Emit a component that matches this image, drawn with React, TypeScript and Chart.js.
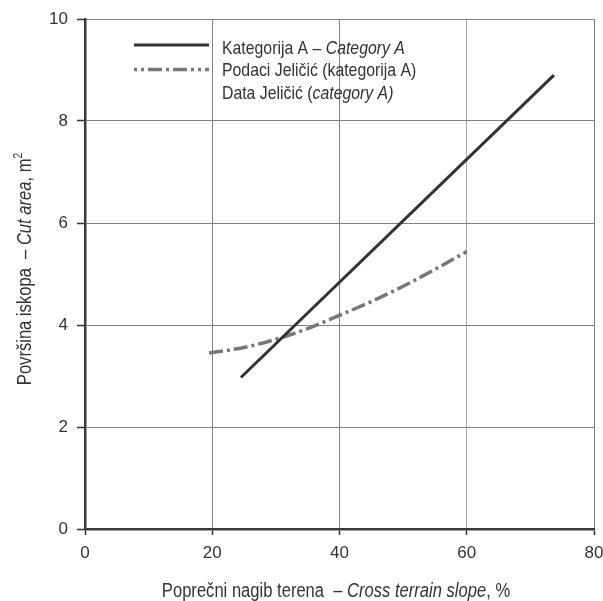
import React, { useEffect, useRef } from "react";
import { Chart, registerables } from "chart.js";

Chart.register(...registerables);

// ---- data ----
const categoryAX = [24.5, 73.7];
const categoryAY = [2.97, 8.9];
const jelicicX = [19.5, 25, 30, 35, 40, 45, 50, 55, 60];
const jelicicY = [3.45, 3.56, 3.72, 3.93, 4.19, 4.46, 4.76, 5.09, 5.44];
const xTickValues = [0, 20, 40, 60, 80];
const yTickValues = [0, 2, 4, 6, 8, 10];

type Part = { t: string; i?: boolean; sup?: boolean };
const legendRow1: Part[] = [{ t: "Kategorija A – " }, { t: "Category A", i: true }];
const legendRow2: Part[] = [{ t: "Podaci Jeličić (kategorija A)" }];
const legendRow3: Part[] = [{ t: "Data Jeličić (" }, { t: "category A)", i: true }];
const xTitle: Part[] = [{ t: "Poprečni nagib terena  – " }, { t: "Cross terrain slope", i: true }, { t: ", %" }];
const yTitle: Part[] = [{ t: "Površina iskopa  – " }, { t: "Cut area", i: true }, { t: ", m" }, { t: "2", sup: true }];

const FAMILY = "'Liberation Sans', Arial, sans-serif";
const TEXT = "#333333";

function fontOf(p: Part, size: number) {
  const s = p.sup ? Math.round(size * 0.6) : size;
  return `${p.i ? "italic " : ""}${s}px ${FAMILY}`;
}

function drawRich(
  ctx: CanvasRenderingContext2D,
  parts: Part[],
  x: number,
  y: number,
  size: number,
  align: "left" | "center",
  sx: number
) {
  let total = 0;
  for (const p of parts) {
    ctx.font = fontOf(p, size);
    total += ctx.measureText(p.t).width;
  }
  ctx.save();
  ctx.translate(x, y);
  ctx.scale(sx, 1);
  let cx = align === "center" ? -total / 2 : 0;
  ctx.textAlign = "left";
  ctx.textBaseline = "alphabetic";
  ctx.fillStyle = TEXT;
  for (const p of parts) {
    ctx.font = fontOf(p, size);
    ctx.fillText(p.t, cx, p.sup ? -size * 0.45 : 0);
    cx += ctx.measureText(p.t).width;
  }
  ctx.restore();
}

const textPlugin = {
  id: "richText",
  afterDraw(chart: any) {
    const ctx: CanvasRenderingContext2D = chart.ctx;
    ctx.save();
    // legend lines
    ctx.lineCap = "butt";
    ctx.strokeStyle = "#333333";
    ctx.lineWidth = 3;
    ctx.setLineDash([]);
    ctx.beginPath();
    ctx.moveTo(134, 45);
    ctx.lineTo(209, 45);
    ctx.stroke();
    ctx.strokeStyle = "#777777";
    ctx.lineWidth = 3.5;
    ctx.setLineDash([3, 4, 3, 4, 14, 4, 3, 4, 14, 4]);
    ctx.beginPath();
    ctx.moveTo(134, 69.5);
    ctx.lineTo(209, 69.5);
    ctx.stroke();
    ctx.setLineDash([]);
    // legend text
    drawRich(ctx, legendRow1, 222, 54, 18.5, "left", 0.855);
    drawRich(ctx, legendRow2, 222, 76, 18.5, "left", 0.855);
    drawRich(ctx, legendRow3, 222, 98.5, 18.5, "left", 0.855);
    // x title
    drawRich(ctx, xTitle, 336, 597, 19.5, "center", 0.85);
    // y title
    ctx.translate(30.5, 269);
    ctx.rotate(-Math.PI / 2);
    drawRich(ctx, yTitle, 0, 0, 19.5, "center", 0.85);
    ctx.restore();
  },
};

export default function App() {
  const ref = useRef<HTMLCanvasElement | null>(null);
  useEffect(() => {
    if (!ref.current) return;
    const chart = new Chart(ref.current, {
      type: "line",
      data: {
        datasets: [
          {
            label: "Kategorija A – Category A",
            data: categoryAX.map((x, i) => ({ x, y: categoryAY[i] })),
            borderColor: "#333333",
            borderWidth: 3,
            pointRadius: 0,
            tension: 0,
          },
          {
            label: "Podaci Jeličić (kategorija A)",
            data: jelicicX.map((x, i) => ({ x, y: jelicicY[i] })),
            borderColor: "#777777",
            borderWidth: 3.5,
            borderDash: [14, 4, 3, 4],
            pointRadius: 0,
            cubicInterpolationMode: "monotone",
          },
        ],
      },
      options: {
        responsive: false,
        animation: false,
        layout: { padding: { left: 0, right: 9, top: 19, bottom: 0 } },
        plugins: { legend: { display: false }, tooltip: { enabled: false }, title: { display: false } },
        scales: {
          x: {
            type: "linear",
            min: 0,
            max: 80,
            afterBuildTicks: (s: any) => {
              s.ticks = xTickValues.map((v) => ({ value: v }));
            },
            afterFit: (s: any) => {
              s.height = 72;
              s.paddingRight = 0;
              s.paddingLeft = 0;
            },
            grid: {
              color: (c: any) => (c.tick && c.tick.value === 60 ? "#aaaaaa" : "#808080"),
              lineWidth: 1,
              tickLength: 6,
              tickColor: "#333333",
              tickWidth: 1.5,
            },
            border: { display: true, color: "#3a3a3a", width: 2.5 },
            ticks: { color: TEXT, font: { family: FAMILY, size: 17 }, padding: 8, maxRotation: 0 },
          },
          y: {
            type: "linear",
            min: 0,
            max: 10,
            afterBuildTicks: (s: any) => {
              s.ticks = yTickValues.map((v) => ({ value: v }));
            },
            afterFit: (s: any) => {
              s.width = 85;
              s.paddingTop = 0;
              s.paddingBottom = 0;
            },
            grid: {
              color: "#808080",
              lineWidth: 1,
              tickLength: 8,
              tickColor: "#333333",
              tickWidth: 1.5,
            },
            border: { display: true, color: "#3a3a3a", width: 2.5 },
            ticks: { color: TEXT, font: { family: FAMILY, size: 17 }, padding: 9 },
          },
        },
      },
      plugins: [textPlugin],
    } as any);
    return () => chart.destroy();
  }, []);
  return (
    <div style={{ position: "absolute", left: 0, top: 0, width: 603, height: 601, background: "#fff" }}>
      <canvas ref={ref} width={603} height={601} style={{ display: "block" }} />
    </div>
  );
}
